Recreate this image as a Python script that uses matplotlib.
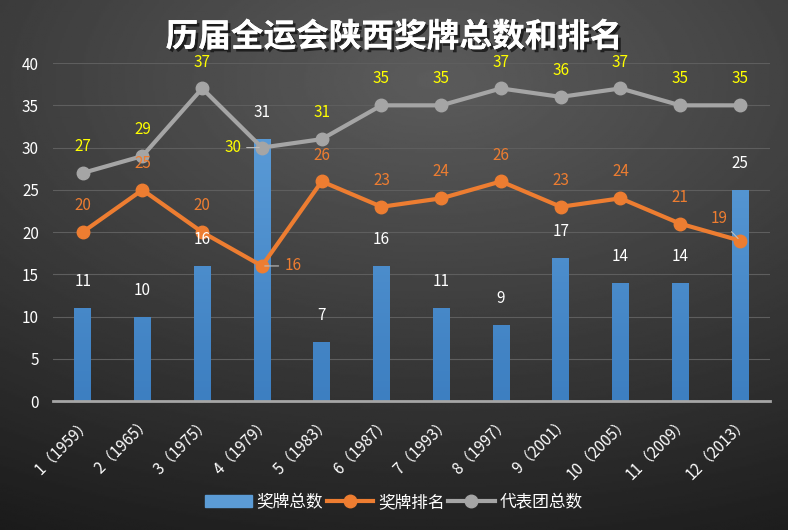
import numpy as np
import matplotlib.pyplot as plt
import matplotlib.patheffects as pe
from matplotlib.lines import Line2D
from matplotlib.patches import Patch

plt.rcParams['font.family'] = ['Noto Sans CJK SC', 'DejaVu Sans']

# data
sessions = ["1（1959）", "2（1965）", "3（1975）", "4（1979）", "5（1983）", "6（1987）",
            "7（1993）", "8（1997）", "9（2001）", "10（2005）", "11（2009）", "12（2013）"]
medals = [11, 10, 16, 31, 7, 16, 11, 9, 17, 14, 14, 25]
rank = [20, 25, 20, 16, 26, 23, 24, 26, 23, 24, 21, 19]
delegation = [27, 29, 37, 30, 31, 35, 35, 37, 36, 37, 35, 35]

blue = "#5b9bd5"
orange = "#ed7d31"
gray = "#a5a5a5"

fig = plt.figure(figsize=(7.88, 5.3), dpi=100)

# background gradient
bg = fig.add_axes([0, 0, 1, 1])
yy, xx = np.mgrid[0:1:300j, 0:1:400j]
r = np.sqrt((xx - 0.55) ** 2 + ((yy - 0.15) * 1.2) ** 2)
bg.imshow(0.36 - 0.22 * r, cmap="gray", vmin=0, vmax=1, aspect="auto",
          extent=[0, 1, 0, 1], origin="upper")
bg.axis("off")

ax = fig.add_axes([0.067, 0.243, 0.91, 0.638])
ax.patch.set_alpha(0)
x = np.arange(len(sessions))

bars = ax.bar(x, medals, width=0.28, color=blue, zorder=2)
# vertical gradient inside the bars
grad = np.linspace(1, 0, 100).reshape(-1, 1)
from matplotlib.colors import LinearSegmentedColormap
bcmap = LinearSegmentedColormap.from_list("b", ["#3d7fc1", "#62a2dc"])
for b in bars:
    b.set_facecolor("none")
    b.set_edgecolor("none")
    bx, by = b.get_x(), b.get_y()
    im = ax.imshow(grad, cmap=bcmap, aspect="auto", origin="upper",
                   extent=[bx, bx + b.get_width(), 0, 40], zorder=2)
    im.set_clip_path(b)

ax.plot(x, rank, color=orange, lw=3, marker="o", ms=9, zorder=3)
ax.plot(x, delegation, color=gray, lw=3, marker="o", ms=9, zorder=3)

ax.set_xlim(-0.5, len(sessions) - 0.5)
ax.set_ylim(0, 40)
ax.set_yticks(range(0, 41, 5))
ax.grid(axis="y", color="#5e5e5e", lw=0.8, zorder=0)
for s in ["top", "right", "left"]:
    ax.spines[s].set_visible(False)
ax.spines["bottom"].set_color("#a6a6a6")
ax.spines["bottom"].set_linewidth(2)
ax.tick_params(length=0, colors="white", labelsize=11)
ax.tick_params(axis="y", pad=10)
ax.tick_params(axis="x", pad=9)
ax.set_xticks(x)
ax.set_xticklabels(sessions, rotation=45, ha="right", va="top",
                   rotation_mode="anchor", color="white", fontsize=11)

# data labels
off = 19
for i, v in enumerate(medals):
    ax.annotate(str(v), (i, v), xytext=(0, off), textcoords="offset points",
                ha="center", va="center", color="white", fontsize=11)

for i, v in enumerate(rank):
    if i == 3:
        ax.annotate(str(v), (i, v), xytext=(16, 0), textcoords="offset points",
                    ha="left", va="center", color=orange, fontsize=11,
                    arrowprops=dict(arrowstyle="-", color="#bfbfbf", lw=0.8))
    elif i == 11:
        ax.annotate(str(v), (i, v), xytext=(-9, 16), textcoords="offset points",
                    ha="right", va="center", color=orange, fontsize=11,
                    arrowprops=dict(arrowstyle="-", color="#bfbfbf", lw=0.8))
    else:
        ax.annotate(str(v), (i, v), xytext=(0, off), textcoords="offset points",
                    ha="center", va="center", color=orange, fontsize=11)

for i, v in enumerate(delegation):
    if i == 3:
        ax.annotate(str(v), (i, v), xytext=(-15, 0), textcoords="offset points",
                    ha="right", va="center", color="#ffff00", fontsize=11,
                    arrowprops=dict(arrowstyle="-", color="#bfbfbf", lw=0.8))
    else:
        ax.annotate(str(v), (i, v), xytext=(0, off), textcoords="offset points",
                    ha="center", va="center", color="#ffff00", fontsize=11,
                    annotation_clip=False)

fig.text(0.5, 0.93, "历届全运会陕西奖牌总数和排名", ha="center", va="center",
         color="white", fontsize=23.5, fontweight="bold",
         path_effects=[pe.withSimplePatchShadow(offset=(2, -2), shadow_rgbFace="black", alpha=0.6),
                       pe.Normal()])

handles = [Patch(color=blue),
           Line2D([], [], color=orange, lw=3, marker="o", ms=9),
           Line2D([], [], color=gray, lw=3, marker="o", ms=9)]
fig.legend(handles, ["奖牌总数", "奖牌排名", "代表团总数"], loc="center",
           bbox_to_anchor=(0.5, 0.052), ncol=3, frameon=False, fontsize=12,
           labelcolor="white", handlelength=2.8, columnspacing=0.2, handletextpad=0.3)

fig.savefig("out.png", dpi=100)
